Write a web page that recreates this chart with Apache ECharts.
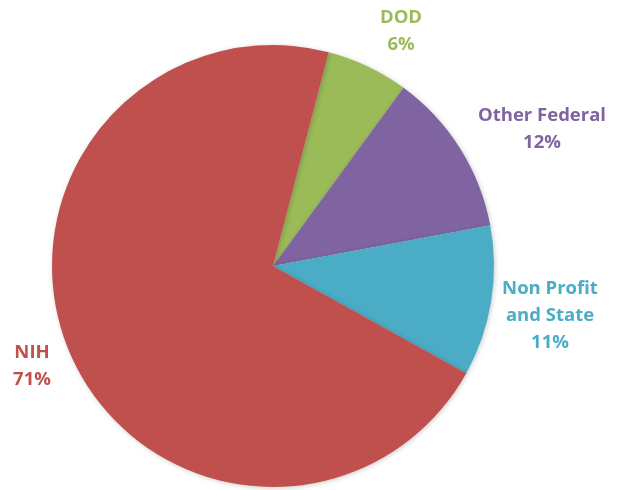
<!DOCTYPE html>
<html>
<head>
<meta charset="utf-8">
<script src="https://cdn.jsdelivr.net/npm/echarts@6/dist/echarts.min.js"></script>
<style>html,body{margin:0;padding:0;background:#fff;}#c{width:623px;height:490px;}</style>
</head>
<body>
<div id="c"></div>
<script>
const categories = ['DOD', 'Other Federal', 'Non Profit\nand State', 'NIH'];
const values = [6, 12, 11, 71];
const colors = ['#9BBB59', '#8064A2', '#4BACC6', '#C0504D'];

const labelAnchors = [[401, 31], [542, 129], [550, 316], [32, 366]];

const chart = echarts.init(document.getElementById('c'), null, {renderer: 'canvas'});
chart.setOption({
  backgroundColor: '#ffffff',
  animation: false,
  series: [{
    type: 'pie',
    center: [273, 266],
    radius: [0, 221],
    startAngle: 75.4,
    clockwise: true,
    avoidLabelOverlap: false,
    data: categories.map((n, i) => ({
      name: n,
      value: values[i],
      itemStyle: {color: colors[i]},
      label: {color: colors[i]}
    })),
    itemStyle: {
      borderWidth: 0,
      shadowBlur: 5,
      shadowColor: 'rgba(0,0,0,0.2)',
      shadowOffsetX: 1,
      shadowOffsetY: 1
    },
    label: {
      show: true,
      position: 'outside',
      alignTo: 'none',
      overflow: 'none',
      bleedMargin: 0,
      formatter: p => p.name + '\n' + Math.round(p.percent) + '%',
      fontFamily: '"Open Sans", Lato, sans-serif',
      fontWeight: 'bold',
      fontSize: 18.5,
      lineHeight: 27,
      align: 'center'
    },
    labelLine: {show: false},
    labelLayout: params => ({
      x: labelAnchors[params.dataIndex][0],
      y: labelAnchors[params.dataIndex][1],
      align: 'center',
      verticalAlign: 'middle',
      hideOverlap: false
    })
  }]
});
</script>
</body>
</html>
